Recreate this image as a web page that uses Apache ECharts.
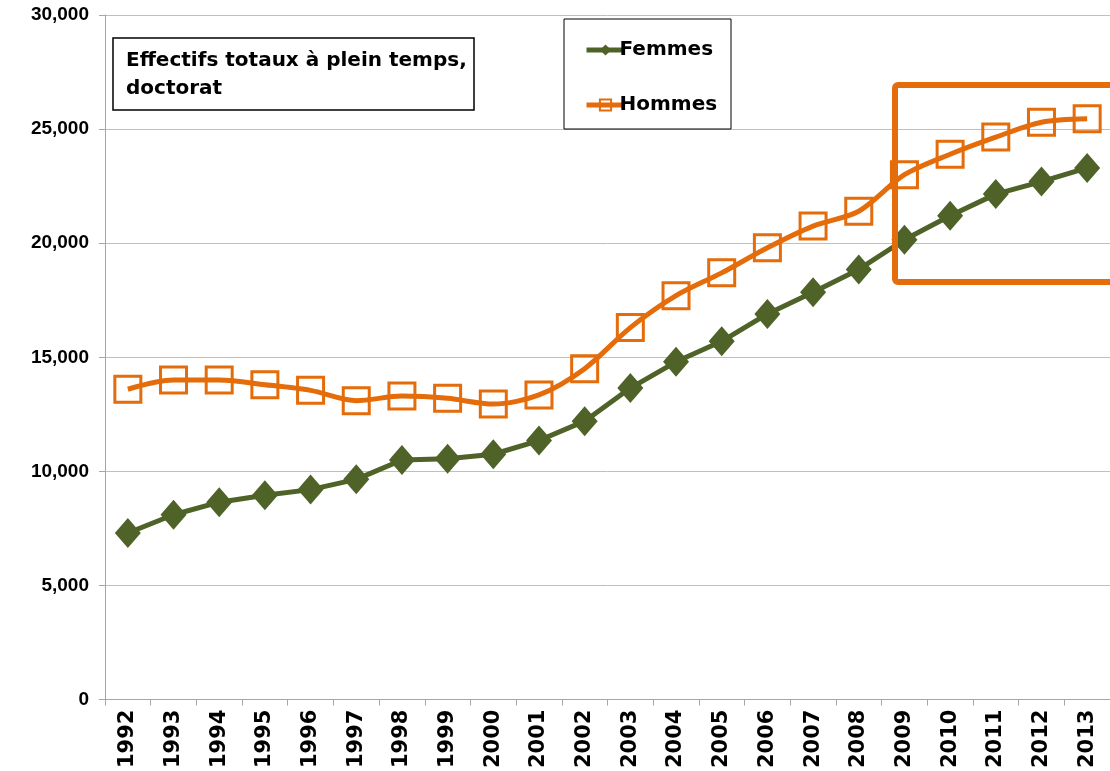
<!DOCTYPE html>
<html>
<head>
<meta charset="utf-8">
<script src="https://cdn.jsdelivr.net/npm/echarts@6/dist/echarts.min.js"></script>
<style>
  html, body { margin: 0; padding: 0; background: #fff; }
  #chart { width: 1110px; height: 771px; }
</style>
</head>
<body>
<div id="chart"></div>
<script>
var years = ['1992', '1993', '1994', '1995', '1996', '1997', '1998', '1999', '2000', '2001', '2002',
  '2003', '2004', '2005', '2006', '2007', '2008', '2009', '2010', '2011', '2012', '2013'];
var femmes = [7300, 8100, 8650, 8950, 9200, 9650, 10500, 10550, 10750, 11350, 12200,
  13650, 14800, 15700, 16900, 17850, 18850, 20150, 21200, 22150, 22700, 23300];
var hommes = [13600, 14000, 14000, 13800, 13550, 13100, 13300, 13200, 12950, 13350, 14500,
  16300, 17700, 18700, 19800, 20750, 21400, 23000, 23900, 24650, 25300, 25450];
var yTicks = [0, 5000, 10000, 15000, 20000, 25000, 30000];

var green = '#4F6228';
var orange = '#E46C0A';
var font = 'Arial, "Liberation Sans", sans-serif';
var wide = '"DejaVu Sans", sans-serif';

var chart = echarts.init(document.getElementById('chart'));

var option = {
  animation: false,
  backgroundColor: '#fff',
  grid: { left: 105, right: -6, top: 15, bottom: 70, containLabel: false },
  legend: {
    orient: 'vertical',
    left: 579,
    top: 35,
    itemGap: 35,
    itemWidth: 38,
    itemHeight: 14,
    z: 20,
    data: ['Femmes', 'Hommes'],
    lineStyle: { width: 5 },
    textStyle: { fontFamily: wide, fontWeight: 'bold', fontSize: 20, color: '#000', padding: [0, 0, 0, -10] }
  },
  xAxis: {
    type: 'category',
    data: years,
    boundaryGap: true,
    axisLine: { lineStyle: { color: '#A6A6A6', width: 1 } },
    axisTick: { show: true, length: 6, lineStyle: { color: '#A6A6A6' } },
    axisLabel: { rotate: 90, margin: 10, fontFamily: wide, fontWeight: 'bold', fontSize: 21, color: '#000' }
  },
  yAxis: {
    type: 'value',
    min: 0,
    max: 30000,
    interval: 5000,
    axisLine: { show: true, lineStyle: { color: '#A6A6A6', width: 1 } },
    axisTick: { show: true, length: 6, lineStyle: { color: '#A6A6A6' } },
    splitLine: { lineStyle: { color: '#BFBFBF', width: 1 } },
    axisLabel: {
      margin: 16,
      fontFamily: font, fontWeight: 'bold', fontSize: 19, color: '#000',
      formatter: function (v) {
        return yTicks.indexOf(v) >= 0 ? v.toLocaleString('en-US') : '';
      }
    }
  },
  series: [
    {
      name: 'Femmes',
      type: 'line',
      data: femmes,
      symbol: 'diamond',
      symbolSize: [26, 30],
      color: green,
      itemStyle: { color: green },
      lineStyle: { color: green, width: 5 },
      z: 3
    },
    {
      name: 'Hommes',
      type: 'line',
      data: hommes,
      smooth: 0.3,
      symbol: 'rect',
      symbolSize: 26,
      color: orange,
      itemStyle: { color: 'rgba(255,255,255,0)', borderColor: orange, borderWidth: 3 },
      lineStyle: { color: orange, width: 5 },
      z: 2
    }
  ],
  graphic: [
    {
      type: 'rect',
      shape: { x: 113, y: 38, width: 361, height: 72 },
      style: { fill: '#fff', stroke: '#000', lineWidth: 1.5 },
      z: 10
    },
    {
      type: 'text',
      left: 126,
      top: 47,
      style: {
        text: 'Effectifs totaux à plein temps,\ndoctorat',
        font: 'bold 20px ' + wide,
        fill: '#000',
        lineHeight: 28
      },
      z: 11
    },
    {
      type: 'rect',
      shape: { x: 564, y: 19, width: 167, height: 110 },
      style: { fill: '#fff', stroke: '#000', lineWidth: 1 },
      z: 1
    },
    {
      type: 'rect',
      shape: { x: 895, y: 85, width: 230, height: 197, r: 3 },
      style: { fill: 'none', stroke: orange, lineWidth: 6 },
      z: 20
    }
  ]
};

chart.setOption(option);
</script>
</body>
</html>
